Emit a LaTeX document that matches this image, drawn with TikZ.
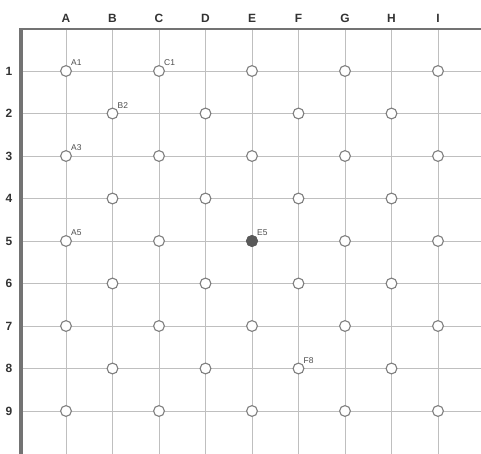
\documentclass[tikz,border=0pt]{standalone}
\usepackage{fontspec}
\setmainfont{Liberation Sans}
\tikzset{
  hole/.style={circle,draw=black!50,fill=white,line width=0.8pt,inner sep=0pt,minimum size=0.27cm},
  peg/.style={hole,draw=black!65,fill=black!65},
  gridline/.style={black!25,line width=0.7pt},
  rim/.style={black!55,line width=2pt},
  colname/.style={font=\bfseries\fontsize{8.5}{9}\selectfont,text=black!80},
  tag/.style={font=\fontsize{6}{7}\selectfont,text=black!70,inner sep=0.5pt,anchor=south west}
}
\begin{document}
\begin{tikzpicture}[x=0.025cm,y=-0.025cm]
\useasboundingbox (0,0) rectangle (481,454);
\fill[white] (0,0) rectangle (481,454);
% the grid
\foreach \c [count=\i] in {A,B,C,D,E,F,G,H,I} {
  \draw[gridline] ({66+(\i-1)*46.5},29) -- ({66+(\i-1)*46.5},454);
  \node[colname] (col\c) at ({66+(\i-1)*46.5},18) {\c};
}
\foreach \r in {1,...,9} {
  \draw[gridline] (21,{71+(\r-1)*42.5}) -- (481,{71+(\r-1)*42.5});
  \node[colname] (row\r) at (9,{71+(\r-1)*42.5}) {\r};
}
\draw[rim] (21,29) -- (481,29);        % top edge
\draw[rim,line width=2.6pt] (21,28) -- (21,454); % left edge
% the holes
\foreach \r in {1,3,5,7,9}
  \foreach \c/\i in {A/1,C/3,E/5,G/7,I/9}
    \node[hole] (\c\r) at ({66+(\i-1)*46.5},{71+(\r-1)*42.5}) {};
\foreach \r in {2,4,6,8}
  \foreach \c/\i in {B/2,D/4,F/6,H/8}
    \node[hole] (\c\r) at ({66+(\i-1)*46.5},{71+(\r-1)*42.5}) {};
\node[peg] (E5) at (E5) {};             % the filled one
% labels
\foreach \n in {A1,C1,B2,A3,A5,E5,F8}
  \node[tag] at (\n.north east) {\n};
\end{tikzpicture}
\end{document}
